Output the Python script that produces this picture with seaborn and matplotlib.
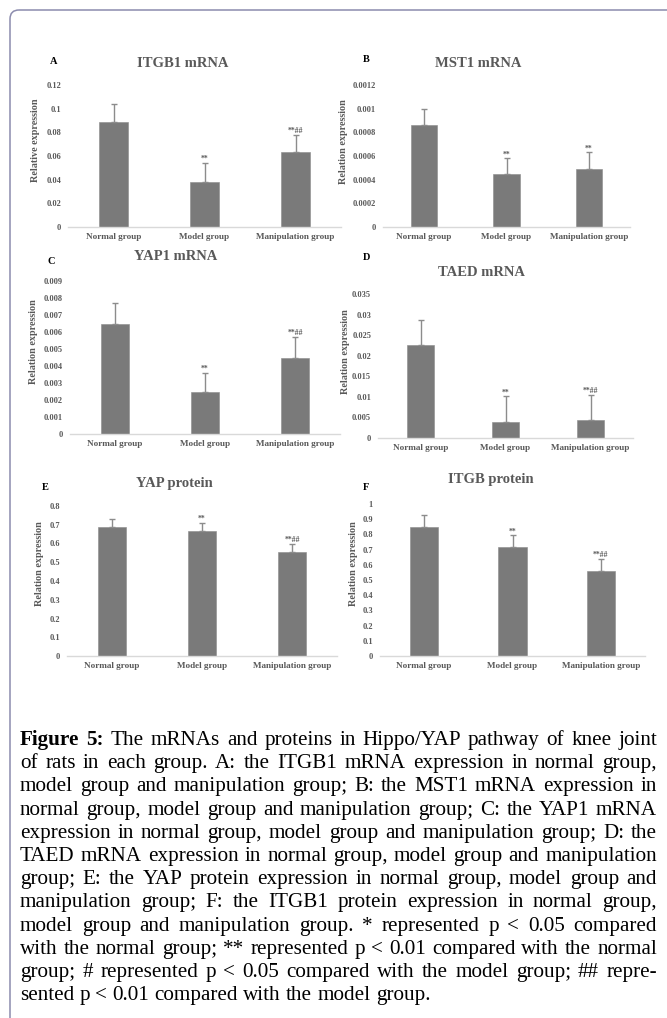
import numpy as np
import pandas as pd
import matplotlib
matplotlib.use("Agg")
import matplotlib.pyplot as plt
import seaborn as sns
from matplotlib.patches import FancyBboxPatch
from matplotlib.transforms import Bbox

# ---------------- data ----------------
groups = ["Normal group", "Model group", "Manipulation group"]

itgb1_mrna = [0.089, 0.038, 0.063]
itgb1_mrna_err = [0.015, 0.016, 0.015]
itgb1_mrna_sig = ["", "**", "**##"]

mst1_mrna = [0.00086, 0.00045, 0.00049]
mst1_mrna_err = [0.00014, 0.00013, 0.00014]
mst1_mrna_sig = ["", "**", "**"]

yap1_mrna = [0.0065, 0.00245, 0.00448]
yap1_mrna_err = [0.0012, 0.00115, 0.0012]
yap1_mrna_sig = ["", "**", "**##"]

taed_mrna = [0.0225, 0.0039, 0.0043]
taed_mrna_err = [0.0063, 0.0062, 0.0062]
taed_mrna_sig = ["", "**", "**##"]

yap_protein = [0.686, 0.668, 0.556]
yap_protein_err = [0.044, 0.043, 0.041]
yap_protein_sig = ["", "**", "**##"]

itgb_protein = [0.846, 0.714, 0.556]
itgb_protein_err = [0.084, 0.079, 0.083]
itgb_protein_sig = ["", "**", "**##"]

ticks_a = [0, 0.02, 0.04, 0.06, 0.08, 0.1, 0.12]
ticks_b = [0, 0.0002, 0.0004, 0.0006, 0.0008, 0.001, 0.0012]
ticks_c = [0, 0.001, 0.002, 0.003, 0.004, 0.005, 0.006, 0.007, 0.008, 0.009]
ticks_d = [0, 0.005, 0.01, 0.015, 0.02, 0.025, 0.03, 0.035]
ticks_e = [0, 0.1, 0.2, 0.3, 0.4, 0.5, 0.6, 0.7, 0.8]
ticks_f = [0, 0.1, 0.2, 0.3, 0.4, 0.5, 0.6, 0.7, 0.8, 0.9, 1]

caption_lines = [
    "Figure 5: The mRNAs and proteins in Hippo/YAP pathway of knee joint",
    "of rats in each group. A: the ITGB1 mRNA expression in normal group,",
    "model group and manipulation group; B: the MST1 mRNA expression in",
    "normal group, model group and manipulation group; C: the YAP1 mRNA",
    "expression in normal group, model group and manipulation group; D: the",
    "TAED mRNA expression in normal group, model group and manipulation",
    "group; E: the YAP protein expression in normal group, model group and",
    "manipulation group; F: the ITGB1 protein expression in normal group,",
    "model group and manipulation group. * represented p < 0.05 compared",
    "with the normal group; ** represented p < 0.01 compared with the normal",
    "group; # represented p < 0.05 compared with the model group; ## repre-",
    "sented p < 0.01 compared with the model group.",
]

# ---------------- style ----------------
sns.set_style("white")
SERIF = ["Liberation Serif", "DejaVu Serif"]
plt.rcParams["font.family"] = SERIF

W, H = 667, 1018
fig = plt.figure(figsize=(W / 100, H / 100), dpi=100)
fig.patch.set_facecolor("white")

# background overlay axes in pixel coordinates
bg = fig.add_axes([0, 0, 1, 1])
bg.set_xlim(0, W)
bg.set_ylim(H, 0)
bg.axis("off")
bg.patch.set_alpha(0)
bg.add_patch(FancyBboxPatch((10, 10), 720, 1100,
                            boxstyle="round,pad=0,rounding_size=9",
                            fill=False, ec="#8c8cae", lw=1.1))

BAR = "#7a7a7a"
TXT = "#595959"

panels = [
    # values, err, sig, ticks, x0, x1, ytop, ybottom, letter, lpos, title, tpos, ylabel, ypos
    (itgb1_mrna, itgb1_mrna_err, itgb1_mrna_sig, ticks_a, 68, 341, 85, 227,
     "A", (50, 61), "ITGB1 mRNA", (183, 63), "Relative expression", (36, 140)),
    (mst1_mrna, mst1_mrna_err, mst1_mrna_sig, ticks_b, 383, 630, 85, 227,
     "B", (363, 59), "MST1 mRNA", (478, 63), "Relation expression", (344, 142)),
    (yap1_mrna, yap1_mrna_err, yap1_mrna_sig, ticks_c, 70, 340, 281, 434,
     "C", (47, 261), "YAP1 mRNA", (176, 257), "Relation expression", (33, 342)),
    (taed_mrna, taed_mrna_err, taed_mrna_sig, ticks_d, 378, 633, 294, 438,
     "D", (363, 257), "TAED mRNA", (481, 273), "Relation expression", (345, 352)),
    (yap_protein, yap_protein_err, yap_protein_sig, ticks_e, 67, 337, 506, 656,
     "E", (42, 487), "YAP protein", (174, 483), "Relation expression", (40, 564)),
    (itgb_protein, itgb_protein_err, itgb_protein_sig, ticks_f, 380, 645, 504, 656,
     "F", (363, 488), "ITGB protein", (491, 480), "Relation expression", (353, 564)),
]

axes = []
for (vals, errs, sigs, ticks, x0, x1, yt, yb, letter, lpos, title, tpos, ylab, ypos) in panels:
    ax = fig.add_axes([x0 / W, 1 - yb / H, (x1 - x0) / W, (yb - yt) / H])
    df = pd.DataFrame({"group": groups, "value": vals})
    sns.barplot(data=df, x="group", y="value", color=BAR, saturation=1,
                width=0.32, errorbar=None, ax=ax, edgecolor="#8a8a8a", linewidth=0.4)
    xs = np.arange(len(groups))
    ax.errorbar(xs, vals, yerr=[np.zeros(len(vals)), errs], fmt="none",
                ecolor="#8c8c8c", elinewidth=1.0, capsize=2.2, capthick=1.0)
    for xi, v, e, s in zip(xs, vals, errs, sigs):
        if s:
            ax.text(xi, v + e, s, ha="center", va="bottom", fontsize=5.5,
                    fontweight="bold", color=TXT)
    ax.set_ylim(0, ticks[-1])
    ax.set_xlim(-0.5, 2.5)
    ax.set_yticks(ticks)
    ax.set_yticklabels(["{:g}".format(t) for t in ticks])
    ax.set_xlabel("")
    ax.set_ylabel("")
    for sp in ["top", "right", "left"]:
        ax.spines[sp].set_visible(False)
    ax.spines["bottom"].set_color("#d9d9d9")
    ax.spines["bottom"].set_linewidth(1.0)
    ax.tick_params(axis="y", length=0, pad=5, labelsize=6, labelcolor=TXT)
    ax.tick_params(axis="x", length=0, pad=4, labelsize=6.6, labelcolor=TXT)
    for lab in ax.get_yticklabels() + ax.get_xticklabels():
        lab.set_fontweight("bold")
    ax.patch.set_alpha(0)
    axes.append(ax)

    bg.text(lpos[0], lpos[1], letter, ha="left", va="center", fontsize=7.5,
            fontweight="bold", color="black")
    bg.text(tpos[0], tpos[1], title, ha="center", va="center", fontsize=10.5,
            fontweight="bold", color=TXT)
    bg.text(ypos[0], ypos[1], ylab, ha="center", va="center", fontsize=7.3,
            fontweight="bold", color=TXT, rotation=90)

# clip truncated "Manipulation group" labels in left column (A and C)
for ax, xclip in [(axes[0], 343), (axes[2], 335)]:
    lab = ax.get_xticklabels()[2]
    lab.set_clip_on(True)
    lab.set_clip_box(Bbox.from_extents(0, 0, xclip, H))

# ---------------- caption (justified) ----------------
fig.canvas.draw()
r = fig.canvas.get_renderer()
LX, RX = 20, 657
Y0, DY = 745, 23.2


def text_width(s, bold, fs):
    t = bg.text(0, 0, s, fontsize=fs, fontweight="bold" if bold else "normal")
    w = t.get_window_extent(r).width
    t.remove()
    return w


def natural_width(line, i, fs):
    return text_width(line, False, fs) if i > 0 else (
        text_width("Figure 5:", True, fs) + text_width(" " + line[10:], False, fs))


# fit font size so the widest justified line fills the column with normal spacing
base = 10.0
widest = max(natural_width(l, i, base) for i, l in enumerate(caption_lines[:-1]))
CAP_FS = base * (RX - LX) * 0.985 / widest

space_w = text_width("a b", False, CAP_FS) - text_width("ab", False, CAP_FS)
for i, line in enumerate(caption_lines):
    words = line.split(" ")
    bolds = [i == 0 and j < 2 for j in range(len(words))]
    widths = [text_width(w, b, CAP_FS) for w, b in zip(words, bolds)]
    y = Y0 + i * DY
    if i < len(caption_lines) - 1:
        gap = (RX - LX - sum(widths)) / (len(words) - 1)
    else:
        gap = space_w
    x = LX
    for w, b, ww in zip(words, bolds, widths):
        bg.text(x, y, w, fontsize=CAP_FS, fontweight="bold" if b else "normal",
                color="black", ha="left", va="baseline")
        x += ww + gap

fig.savefig("out.png", dpi=100)
